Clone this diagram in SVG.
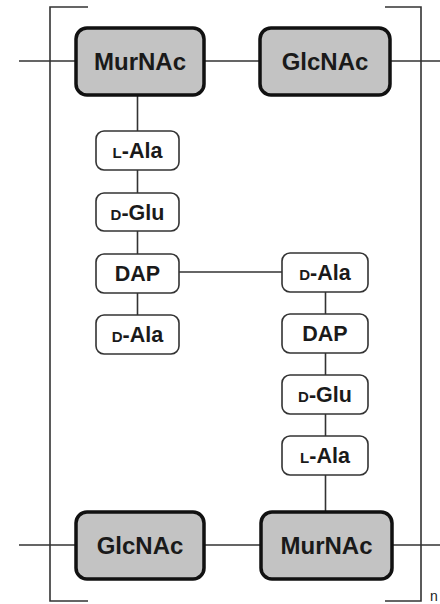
<svg xmlns="http://www.w3.org/2000/svg" width="440" height="604" viewBox="0 0 440 604">
<style>
.sugar rect{fill:#c3c3c3;stroke:#111;stroke-width:3.5}
.pep rect{fill:#fff;stroke:#333;stroke-width:1.6}
.sugar text{font-family:"Liberation Sans",Arial,sans-serif;font-weight:bold;font-size:24px;fill:#1a1a1a;text-anchor:middle}
.pep text{font-family:"Liberation Sans",Arial,sans-serif;font-weight:bold;font-size:21.5px;fill:#1a1a1a;text-anchor:middle}
.sc{font-size:15px}
.ln{stroke:#333;stroke-width:1.6;fill:none}
</style>
<rect width="440" height="604" fill="#fff"/>
<g id="connectors">
<path class="ln" d="M88,7 H50 V601 H88"/>
<path class="ln" d="M385,7 H421 V601 H385"/>
<path class="ln" d="M19,61 H76 M204,61 H260 M390,61 H440"/>
<path class="ln" d="M19,545 H76 M204,545 H261 M392,545 H440"/>
<path class="ln" d="M137.5,95 V131 M137.5,170 V193 M137.5,231 V254 M137.5,293 V315"/>
<path class="ln" d="M179,272 H282"/>
<path class="ln" d="M325.5,292 V314 M325.5,353 V375 M325.5,414 V436 M325.5,475 V512"/>
</g>
<g id="murnac-top" class="sugar"><rect x="76" y="28" width="128" height="67" rx="11"/><text x="140" y="70">MurNAc</text></g>
<g id="glcnac-top" class="sugar"><rect x="260" y="28" width="130" height="67" rx="11"/><text x="325" y="70">GlcNAc</text></g>
<g id="glcnac-bottom" class="sugar"><rect x="76" y="512" width="128" height="67" rx="11"/><text x="140" y="554">GlcNAc</text></g>
<g id="murnac-bottom" class="sugar"><rect x="261" y="512" width="131" height="67" rx="11"/><text x="326.5" y="554">MurNAc</text></g>
<g id="l-ala-1" class="pep"><rect x="96" y="131" width="83" height="39" rx="8"/><text x="137.5" y="158"><tspan class="sc">L</tspan>-Ala</text></g>
<g id="d-glu-1" class="pep"><rect x="96" y="193" width="83" height="38" rx="8"/><text x="137.5" y="219.5"><tspan class="sc">D</tspan>-Glu</text></g>
<g id="dap-1" class="pep"><rect x="96" y="254" width="83" height="39" rx="8"/><text x="137.5" y="281">DAP</text></g>
<g id="d-ala-1" class="pep"><rect x="96" y="315" width="83" height="39" rx="8"/><text x="137.5" y="342"><tspan class="sc">D</tspan>-Ala</text></g>
<g id="d-ala-2" class="pep"><rect x="282" y="253" width="86" height="39" rx="8"/><text x="325" y="280"><tspan class="sc">D</tspan>-Ala</text></g>
<g id="dap-2" class="pep"><rect x="282" y="314" width="86" height="39" rx="8"/><text x="325" y="341">DAP</text></g>
<g id="d-glu-2" class="pep"><rect x="282" y="375" width="86" height="39" rx="8"/><text x="325" y="402"><tspan class="sc">D</tspan>-Glu</text></g>
<g id="l-ala-2" class="pep"><rect x="282" y="436" width="86" height="39" rx="8"/><text x="325" y="463"><tspan class="sc">L</tspan>-Ala</text></g>
<text x="430" y="601" font-family="Liberation Sans,Arial,sans-serif" font-size="14" fill="#222">n</text>
</svg>
